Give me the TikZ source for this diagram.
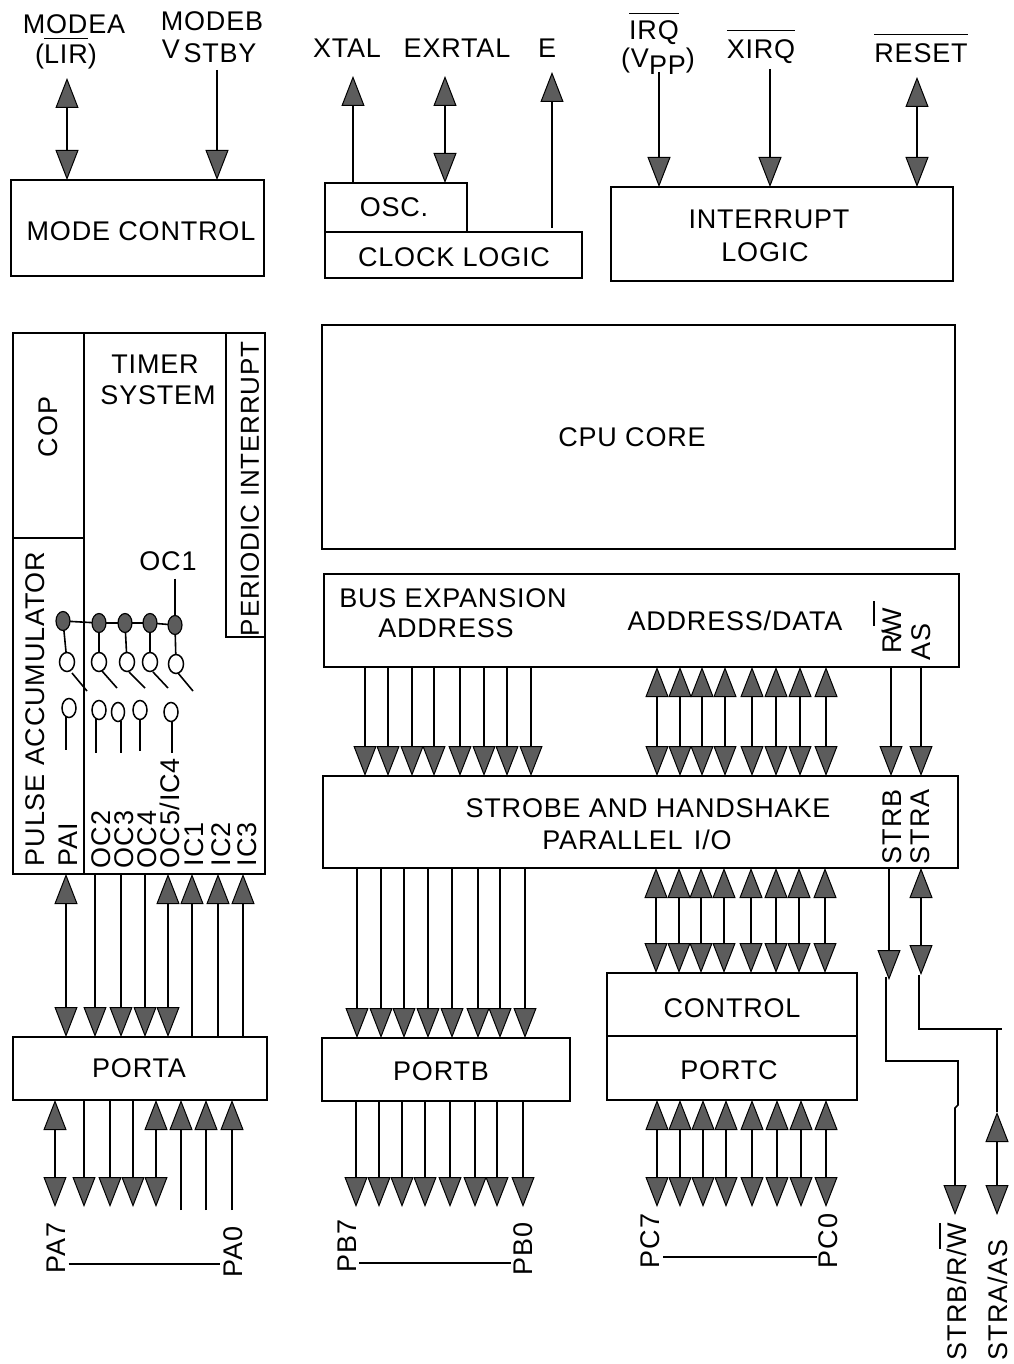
\documentclass[tikz,border=0pt]{standalone}
\usepackage{fontspec}
\setmainfont[LetterSpace=3]{Liberation Sans}
\usetikzlibrary{arrows.meta,shapes.geometric}
\definecolor{hd}{gray}{0.36}
\newcommand\ovl[2][3]{\leavevmode\vbox{\hrule height 1.6pt \kern #1pt\hbox{#2}}}
\newcommand\bxn[5]{\pgfmathsetmacro\cxa{(#2+#4)/2}\pgfmathsetmacro\cya{(#3+#5)/2}\pgfmathsetmacro\wa{#4-#2}\pgfmathsetmacro\ha{#5-#3}%
 \node[blockbox,minimum width=\wa pt,minimum height=\ha pt] (#1) at (\cxa,\cya) {};}
\tikzset{
 blockbox/.style={draw,line width=1.6pt,inner sep=0pt,outer sep=0pt},
 txt/.style={inner sep=0pt,outer sep=0pt,font=\fontsize{27}{30}\selectfont},
 btxt/.style={txt,anchor=base},
 vtxt/.style={txt,rotate=90,anchor=west},
 wire/.style={line width=1.6pt},
 >={Triangle[length=30pt,width=23pt,fill=hd,line width=1pt]},
 dot/.style={ellipse,draw,line width=1.2pt,fill=hd,minimum width=14pt,minimum height=19pt,inner sep=0pt,outer sep=0pt},
 ring/.style={ellipse,draw,line width=1.5pt,fill=white,minimum width=15pt,minimum height=19pt,inner sep=0pt,outer sep=0pt},
}
\begin{document}
\begin{tikzpicture}[x=1pt,y=-1pt]
\useasboundingbox (0,0) rectangle (1013,1364);
% blocks
\bxn{mode}{11}{180}{264}{276}
\bxn{osc}{325}{183}{467}{232}
\bxn{clk}{325}{232}{582}{278}
\bxn{intr}{611}{187}{953}{281}
\bxn{timer}{13}{333}{265}{874}
\bxn{cop}{13}{333}{84}{538}
\bxn{pacc}{13}{538}{84}{874}
\bxn{peri}{226}{333}{265}{637}
\bxn{cpu}{322}{325}{955}{549}
\bxn{bus}{324}{574}{959}{667}
\bxn{strobe}{323}{776}{958}{868}
\bxn{ctrl}{607}{973}{857}{1036}
\bxn{portc}{607}{1036}{857}{1100}
\bxn{porta}{13}{1037}{267}{1100}
\bxn{portb}{322}{1038}{570}{1101}
% block texts
\node[txt] (tmode) at (141,231) {MODE CONTROL};
\node[txt] (tosc) at (394,207) {OSC.};
\node[txt] (tclk) at (454,257) {CLOCK LOGIC};
\node[txt] (tint1) at (769,219) {INTERRUPT};
\node[txt] (tint2) at (765,252) {LOGIC};
\node[txt] (ttim1) at (155,364) {TIMER};
\node[txt] (ttim2) at (158,395) {SYSTEM};
\node[txt] (tcpu) at (632,437) {CPU CORE};
\node[txt] (tbus1) at (453,598) {BUS EXPANSION};
\node[txt] (tbus2) at (446,628) {ADDRESS};
\node[txt] (tad) at (735,621) {ADDRESS/DATA};
\node[txt] (tstr1) at (648,808) {STROBE AND HANDSHAKE};
\node[txt] (tstr2) at (637,840) {PARALLEL\hspace{3pt} I/O};
\node[txt] (tctrl) at (732,1008) {CONTROL};
\node[txt] (tpc) at (729,1070) {PORTC};
\node[txt] (tpa) at (139,1068) {PORTA};
\node[txt] (tpb) at (441,1071) {PORTB};
% vertical texts
\node[vtxt] (tcop) at (48,457) {COP};
\node[vtxt] (tpul) at (35,866) {PULSE ACCUMULATOR};
\node[vtxt,font=\fontsize{26}{30}\selectfont] (tper) at (250,636) {PERIODIC INTERRUPT};
\node[vtxt] (tpai) at (68,866) {PAI};
\node[vtxt] (toc2) at (101,868) {OC2};
\node[vtxt] (toc3) at (124,868) {OC3};
\node[vtxt] (toc4) at (147,868) {OC4};
\node[vtxt] (toc5) at (170,868) {OC5/IC4};
\node[vtxt] (tic1) at (194,866) {IC1};
\node[vtxt] (tic2) at (221,866) {IC2};
\node[vtxt] (tic3) at (247,866) {IC3};
\node[vtxt] (trw) at (892,653) {R\hspace{-4pt}/\hspace{-4pt}W};
\draw[line width=1.6pt] (874,601) -- (874,626);
\node[vtxt] (tas) at (921,660) {AS};
\node[vtxt] (tstrb) at (892,864) {STRB};
\node[vtxt] (tstra) at (920,864) {STRA};
% top labels
\node[txt] (lmodea) at (74,24) {MODEA};
\node[btxt] (llir) at (66,64) {(\ovl[6]{LIR})};
\node[txt] (lmodeb) at (212,21) {MODEB};
\node[txt] (lv) at (171,49) {V};
\node[txt] (lstby) at (220,53) {STBY};
\node[txt] (lxtal) at (347,48) {XTAL};
\node[txt] (lex) at (457,48) {EXRTAL};
\node[txt] (le) at (547,48) {E};
\node[btxt] (lirq) at (654,40) {\ovl[7]{IRQ}};
\node[btxt] (lvpp) at (658,68) {(V\raisebox{-7pt}{PP})};
\node[btxt] (lxirq) at (761,59) {\ovl[9]{XIRQ}};
\node[btxt] (lres) at (921,63) {\ovl[9]{RESET}};
\node[txt] (loc1) at (168,561) {OC1};
% bottom labels
\node[vtxt] (lpa7) at (56,1273) {PA7};
\node[vtxt] (lpa0) at (233,1277) {PA0};
\node[vtxt] (lpb7) at (347,1272) {PB7};
\node[vtxt] (lpb0) at (523,1275) {PB0};
\node[vtxt] (lpc7) at (650,1268) {PC7};
\node[vtxt] (lpc0) at (828,1268) {PC0};
\node[vtxt] (lsr) at (953,1360) {STRB/R/\ovl[7]{W}};
\node[vtxt] (lsa) at (998,1360) {STRA/AS};
\coordinate (pay) at (0,1264);
\coordinate (pby) at (0,1263);
\coordinate (pcy) at (0,1257);
\draw[wire] (68.5,0 |- pay) -- (220,0 |- pay);
\draw[wire] (359,0 |- pby) -- (511,0 |- pby);
\draw[wire] (663,0 |- pcy) -- (817,0 |- pcy);
% top connectors
\coordinate (mAt) at (67,78);
\coordinate (mBt) at (217,70);
\coordinate (xt) at (353,76);
\coordinate (et) at (445,76);
\coordinate (Et) at (552,72);
\coordinate (it) at (659,72);
\coordinate (xit) at (770,69);
\coordinate (rt) at (917,77);
\draw[wire,<->] (mAt) -- (67,0 |- mode.north);
\draw[wire,->] (mBt) -- (217,0 |- mode.north);
\draw[wire,->] (353,0 |- osc.north) -- (xt);
\draw[wire,<->] (et) -- (445,0 |- osc.north);
\draw[wire,->] (552,228) -- (Et);
\draw[wire,->] (it) -- (659,0 |- intr.north);
\draw[wire,->] (xit) -- (770,0 |- intr.north);
\draw[wire,<->] (rt) -- (917,0 |- intr.north);
% bus to strobe
\foreach \x in {365,388,412,434,460,484,507,531,891,921}
  \draw[wire,->] (\x,0 |- bus.south) -- (\x,0 |- strobe.north);
\foreach \x in {657,680,702,725,752,776,800,826}
  \draw[wire,<->] (\x,0 |- bus.south) -- (\x,0 |- strobe.north);
% strobe to ports
\foreach \x in {357,381,404,428,452,478,500,525}
  \draw[wire,->] (\x,0 |- strobe.south) -- (\x,0 |- portb.north);
\foreach \x in {656,679,701,724,751,776,799,825}
  \draw[wire,<->] (\x,0 |- strobe.south) -- (\x,0 |- ctrl.north);
% strb / stra
\coordinate (sbTip) at (889,980);
\coordinate (saTip) at (921,975);
\draw[wire,->] (889,0 |- strobe.south) -- (sbTip);
\draw[wire,<->] (921,0 |- strobe.south) -- (saTip);
\coordinate (srTip) at (955,1215);
\coordinate (saEnd) at (997,1215);
\coordinate (saUp) at (997,1112);
\draw[wire] (886,977) -- (886,1061) -- (958,1061) -- (958,1105) -- (955,1108) -- (955,1190);
\draw[wire,->] (955,1185) -- (srTip);
\draw[wire] (919,975) -- (919,1029) -- (1002,1029);
\draw[wire] (997,1029) -- (saUp);
\draw[wire,<->] (saUp) -- (saEnd);
% port c lower
\coordinate (pcEnd) at (0,1207);
\coordinate (paEnd) at (0,1210);
\foreach \x in {657,680,703,726,752,777,801,826}
  \draw[wire,<->] (\x,0 |- portc.south) -- (\x,0 |- pcEnd);
\foreach \x in {356,379,402,425,450,475,497,523}
  \draw[wire,->] (\x,0 |- portb.south) -- (\x,0 |- pcEnd);
% timer to port a
\foreach \x in {66,168}
  \draw[wire,<->] (\x,0 |- timer.south) -- (\x,0 |- porta.north);
\foreach \x in {95,121,145}
  \draw[wire,->] (\x,0 |- timer.south) -- (\x,0 |- porta.north);
\foreach \x in {192,218,243}
  \draw[wire,->] (\x,0 |- porta.north) -- (\x,0 |- timer.south);
% port a lower
\foreach \x in {55,156}
  \draw[wire,<->] (\x,0 |- porta.south) -- (\x,0 |- pcEnd);
\foreach \x in {84,110,133}
  \draw[wire,->] (\x,0 |- porta.south) -- (\x,0 |- pcEnd);
\foreach \x in {181,206,232}
  \draw[wire,->] (\x,0 |- paEnd) -- (\x,0 |- porta.south);
% switches
\node[dot] (d1) at (63,621) {};
\node[dot] (d2) at (99,623) {};
\node[dot] (d3) at (125,623) {};
\node[dot] (d4) at (150,623) {};
\node[dot] (d5) at (175,625) {};
\draw[wire] (d1) -- (d2) -- (d3) -- (d4) -- (d5);
\draw[wire] (loc1.south -| d5) ++(0,8) -- (d5);
\node[ring] (r1) at (67,662) {};
\node[ring] (r2) at (99,662) {};
\node[ring] (r3) at (127,662) {};
\node[ring] (r4) at (150,662) {};
\node[ring] (r5) at (176,664) {};
\foreach \i in {1,...,5} \draw[wire] (d\i) -- (r\i);
\draw[wire] (r1) ++(5,11) -- (87,691);
\draw[wire] (r2) ++(3,9) -- (117,688);
\draw[wire] (r3) ++(2,10) -- (145,688);
\draw[wire] (r4) ++(3,10) -- (168,688);
\draw[wire] (r5) ++(2,9) -- (193,691);
\node[ring,minimum width=14pt] (s1) at (69,708) {};
\node[ring,minimum width=14pt] (s2) at (99,710) {};
\node[ring,minimum width=13pt] (s3) at (118,712) {};
\node[ring,minimum width=14pt] (s4) at (140,710) {};
\node[ring,minimum width=14pt] (s5) at (171,712) {};
\draw[wire] (66,717) -- (66,750);
\draw[wire] (96,719) -- (96,753);
\draw[wire] (121,721) -- (121,753);
\draw[wire] (140,719) -- (140,751);
\draw[wire] (172,721) -- (172,753);
\end{tikzpicture}
\end{document}
